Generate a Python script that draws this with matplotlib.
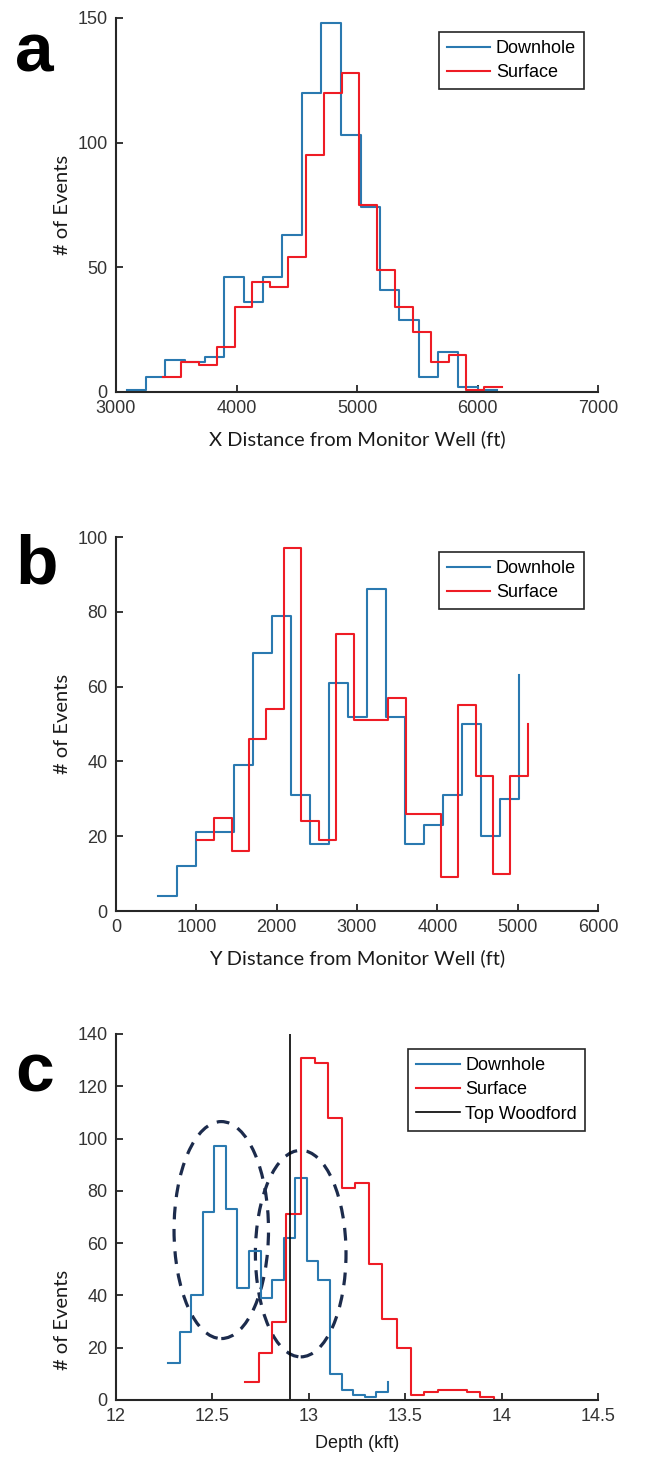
import numpy as np
import matplotlib
matplotlib.use("Agg")
import matplotlib.pyplot as plt
from matplotlib.patches import Ellipse

# colours for the two monitoring arrays
c_down = '#2a79b0'
c_surf = '#ee1c25'
c_axis = '#262626'

# --- a: X distance histograms (stair start positions, counts) ---
xa_down = [3090, 3250, 3410, 3575, 3735, 3895, 4060, 4220, 4380, 4545,
           4705, 4865, 5030, 5190, 5350, 5515, 5675, 5840, 6000, 6165]
na_down = [1, 6, 13, 12, 14, 46, 36, 46, 63, 120,
           148, 103, 74, 41, 29, 6, 16, 2, 1, 1]
xa_surf = [3392, 3540, 3688, 3836, 3984, 4132, 4280, 4428, 4576, 4724,
           4872, 5020, 5168, 5316, 5464, 5612, 5760, 5908, 6056, 6204]
na_surf = [6, 12, 11, 18, 34, 44, 42, 54, 95, 120,
           128, 75, 49, 34, 24, 12, 15, 1, 2, 2]

# --- b: Y distance histograms ---
xb_down = [518, 755, 992, 1229, 1466, 1703, 1940, 2177, 2414, 2651,
           2888, 3125, 3362, 3599, 3836, 4073, 4310, 4547, 4784, 5021]
nb_down = [4, 12, 21, 21, 39, 69, 79, 31, 18, 61,
           52, 86, 52, 18, 23, 31, 50, 20, 30, 63]
xb_surf = [1004, 1221, 1438, 1655, 1872, 2089, 2306, 2523, 2740, 2957,
           3174, 3391, 3608, 3825, 4042, 4259, 4476, 4693, 4910, 5127]
nb_surf = [19, 25, 16, 46, 54, 97, 24, 19, 74, 51,
           51, 57, 26, 26, 9, 55, 36, 10, 36, 50]

# --- c: depth histograms (kft) ---
xc_down = [12.27, 12.33, 12.39, 12.45, 12.51, 12.57, 12.63, 12.69, 12.75, 12.81,
           12.87, 12.93, 12.99, 13.05, 13.11, 13.17, 13.23, 13.29, 13.35, 13.41]
nc_down = [14, 26, 40, 72, 97, 73, 43, 57, 39, 46,
           62, 85, 53, 46, 10, 4, 2, 1, 3, 7]
xc_surf = [12.67, 12.74, 12.81, 12.88, 12.96, 13.03, 13.10, 13.17, 13.24, 13.31,
           13.38, 13.46, 13.53, 13.60, 13.67, 13.74, 13.82, 13.89, 13.96, 14.03]
nc_surf = [7, 18, 30, 71, 131, 129, 108, 81, 83, 52,
           31, 20, 2, 3, 4, 4, 3, 1, 0, 0]
top_woodford = 12.9

# dashed clusters: (centre depth, centre count, width, height)
clusters = [(12.546, 65, 0.49, 83), (12.958, 56, 0.47, 79)]

tick_font = 'Liberation Sans'
label_font = 'Lato'

fig = plt.figure(figsize=(6.52, 14.75), dpi=100)
W, H = 652, 1475


def make_axes(left, top, right, bottom):
    return fig.add_axes([left / W, 1 - bottom / H, (right - left) / W, (bottom - top) / H])


def style(ax):
    for s in ['top', 'right']:
        ax.spines[s].set_visible(False)
    for s in ['left', 'bottom']:
        ax.spines[s].set_color(c_axis)
        ax.spines[s].set_linewidth(1.5)
    ax.tick_params(direction='in', length=5, width=1.3, colors=c_axis,
                   labelsize=13, pad=6)
    for lab in ax.get_xticklabels() + ax.get_yticklabels():
        lab.set_fontfamily(tick_font)
        lab.set_color('#333333')


def add_legend(ax, anchor):
    leg = ax.legend(loc='upper right', bbox_to_anchor=anchor, borderaxespad=0,
                    frameon=True, fancybox=False, framealpha=1,
                    prop={'family': tick_font, 'size': 13},
                    handlelength=2.4, handletextpad=0.3, labelspacing=0.4,
                    borderpad=0.45)
    leg.get_frame().set_edgecolor(c_axis)
    leg.get_frame().set_linewidth(1.2)


# panel a
ax1 = make_axes(116, 18, 598, 392)
ax1.step(xa_down, na_down, where='post', color=c_down, lw=1.5, label='Downhole')
ax1.step(xa_surf, na_surf, where='post', color=c_surf, lw=1.5, label='Surface')
ax1.set_xlim(3000, 7000)
ax1.set_ylim(0, 150)
ax1.set_xticks([3000, 4000, 5000, 6000, 7000])
ax1.set_yticks([0, 50, 100, 150])
style(ax1)
ax1.set_xlabel('X Distance from Monitor Well (ft)', fontfamily=label_font, fontsize=14.5,
               color='#1a1a1a', labelpad=9)
ax1.set_ylabel('# of Events', fontfamily=label_font, fontsize=14.5, color='#1a1a1a',
               va='center')
ax1.yaxis.set_label_coords(-0.112, 0.5)
add_legend(ax1, (0.971, 0.963))

# panel b
ax2 = make_axes(116, 537, 598, 911)
ax2.step(xb_down, nb_down, where='post', color=c_down, lw=1.5, label='Downhole')
ax2.step(xb_surf, nb_surf, where='post', color=c_surf, lw=1.5, label='Surface')
ax2.set_xlim(0, 6000)
ax2.set_ylim(0, 100)
ax2.set_xticks(np.arange(0, 6001, 1000))
ax2.set_yticks(np.arange(0, 101, 20))
style(ax2)
ax2.set_xlabel('Y Distance from Monitor Well (ft)', fontfamily=label_font, fontsize=14.5,
               color='#1a1a1a', labelpad=9)
ax2.set_ylabel('# of Events', fontfamily=label_font, fontsize=14.5, color='#1a1a1a',
               va='center')
ax2.yaxis.set_label_coords(-0.112, 0.5)
add_legend(ax2, (0.971, 0.96))

# panel c
ax3 = make_axes(116, 1034, 598, 1400)
ax3.step(xc_down, nc_down, where='post', color=c_down, lw=1.5, label='Downhole')
ax3.step(xc_surf, nc_surf, where='post', color=c_surf, lw=1.5, label='Surface')
ax3.axvline(top_woodford, color='black', lw=1.2, label='Top Woodford')
for cx, cy, w, h in clusters:
    ax3.add_patch(Ellipse((cx, cy), w, h, fill=False, edgecolor='#1c2b4c',
                          lw=2.3, ls=(0, (4, 3))))
ax3.set_xlim(12, 14.5)
ax3.set_ylim(0, 140)
ax3.set_xticks([12, 12.5, 13, 13.5, 14, 14.5])
ax3.set_xticklabels(['12', '12.5', '13', '13.5', '14', '14.5'])
ax3.set_yticks(np.arange(0, 141, 20))
style(ax3)
ax3.set_xlabel('Depth (kft)', fontfamily=tick_font, fontsize=13, color='#1a1a1a',
               labelpad=7)
ax3.set_ylabel('# of Events', fontfamily=label_font, fontsize=14.5, color='#1a1a1a',
               va='center')
ax3.yaxis.set_label_coords(-0.112, 0.22)
add_legend(ax3, (0.973, 0.959))

# panel letters
for letter, ybase in [('a', 71), ('b', 584), ('c', 1092)]:
    fig.text(15 / W, 1 - ybase / H, letter, fontfamily=tick_font, fontweight='bold',
             fontsize=50, ha='left', va='baseline', color='black')

fig.savefig('out.png', dpi=100)
